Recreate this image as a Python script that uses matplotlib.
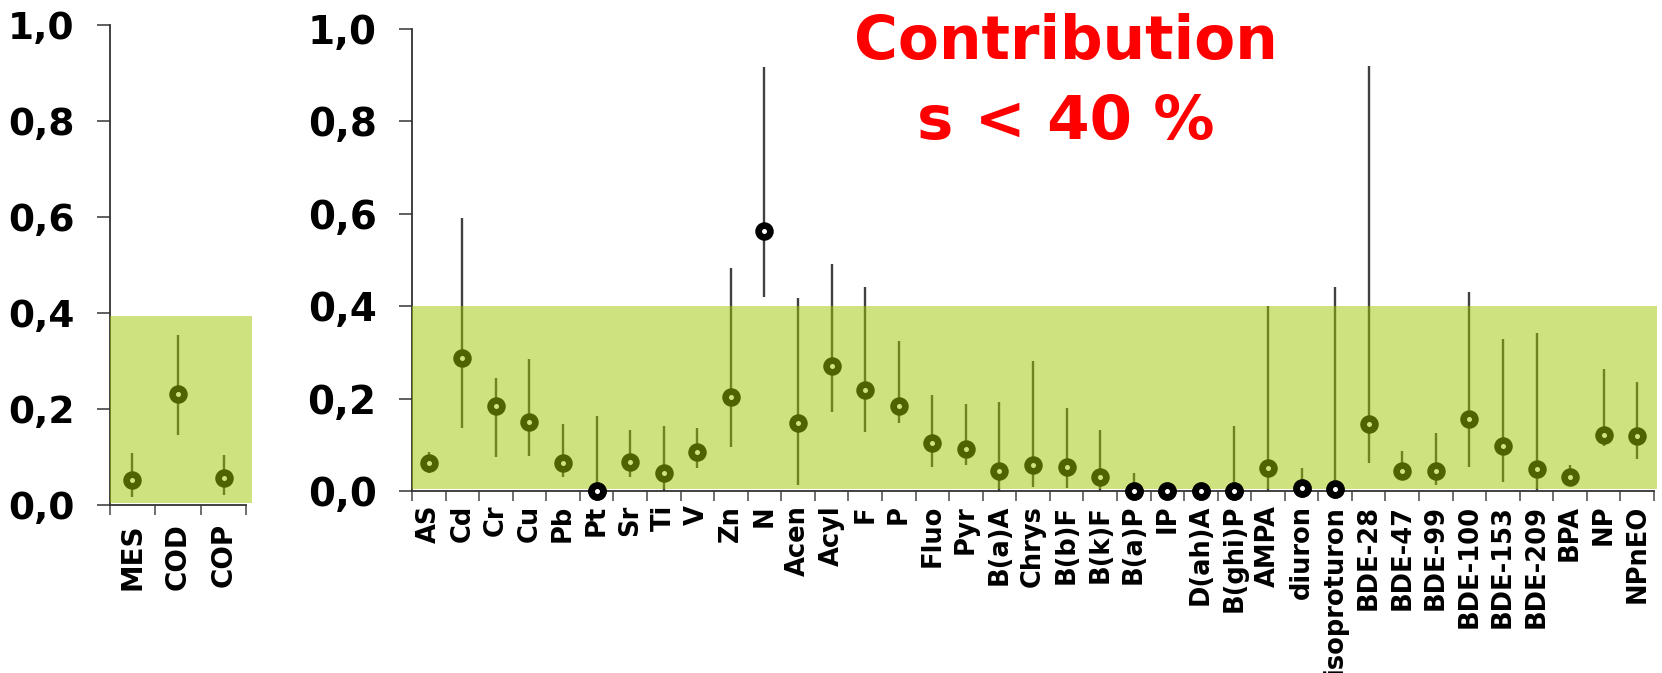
import numpy as np
import matplotlib
matplotlib.use('Agg')
import matplotlib.pyplot as plt
from matplotlib.patches import Rectangle

plt.rcParams['font.family'] = ['DejaVu Sans']
plt.rcParams['font.weight'] = 'bold'

# left panel: global parameters
left_cats = ['MES', 'COD', 'COP']
left_mean = [0.052, 0.232, 0.056]
left_low = [0.017, 0.147, 0.021]
left_high = [0.109, 0.354, 0.104]
left_limit = 0.394

# right panel: micropollutants
right_cats = ['AS', 'Cd', 'Cr', 'Cu', 'Pb', 'Pt', 'Sr', 'Ti', 'V', 'Zn', 'N',
              'Acen', 'Acyl', 'F', 'P', 'Fluo', 'Pyr', 'B(a)A', 'Chrys', 'B(b)F',
              'B(k)F', 'B(a)P', 'IP', 'D(ah)A', 'B(ghi)P', 'AMPA', 'diuron',
              'isoproturon', 'BDE-28', 'BDE-47', 'BDE-99', 'BDE-100', 'BDE-153',
              'BDE-209', 'BPA', 'NP', 'NPnEO']
right_mean = [0.060, 0.287, 0.183, 0.149, 0.061, 0.0, 0.062, 0.040, 0.084, 0.204,
              0.562, 0.148, 0.270, 0.219, 0.184, 0.105, 0.092, 0.044, 0.056, 0.053,
              0.031, 0.0, 0.0, 0.0, 0.0, 0.049, 0.007, 0.005, 0.145, 0.044,
              0.044, 0.156, 0.097, 0.048, 0.030, 0.121, 0.119]
right_low = [0.040, 0.136, 0.074, 0.076, 0.031, 0.0, 0.030, 0.0, 0.049, 0.096,
             0.419, 0.013, 0.170, 0.127, 0.148, 0.053, 0.056, 0.0, 0.008, 0.006,
             0.0, 0.0, 0.0, 0.0, 0.0, 0.0, 0.0, 0.0, 0.060, 0.030,
             0.013, 0.051, 0.020, 0.002, 0.030, 0.097, 0.069]
right_high = [0.085, 0.592, 0.245, 0.285, 0.145, 0.163, 0.132, 0.141, 0.136, 0.482,
              0.918, 0.417, 0.491, 0.442, 0.325, 0.208, 0.188, 0.193, 0.281, 0.180,
              0.132, 0.038, 0.0, 0.0, 0.141, 0.400, 0.049, 0.441, 0.920, 0.087,
              0.125, 0.431, 0.328, 0.341, 0.056, 0.265, 0.237]
right_limit = 0.40

yticks = [0.0, 0.2, 0.4, 0.6, 0.8, 1.0]
ytick_labels = ['0,0', '0,2', '0,4', '0,6', '0,8', '1,0']

overlay = '#9EC800'


def panel(ax, cats, mean, low, high, limit, ysize, xsize, xpad, extra):
    x = np.arange(len(cats))
    mean = np.array(mean)
    ax.vlines(x, low, high, color='#404040', lw=1.7, zorder=2)
    ax.plot(x, mean, 'o', ms=8.5, mfc='white', mec='black', mew=4.8,
            zorder=3, clip_on=False)
    # green band (semi transparent, tints what is below)
    ax.add_patch(Rectangle((-0.5, 0.004), len(cats) + extra, limit - 0.004,
                           facecolor=overlay, alpha=0.5, lw=0, zorder=4,
                           clip_on=False))
    # values at zero stay black on top
    z = mean < 0.01
    ax.plot(x[z], mean[z], 'o', ms=8.5, mfc='white', mec='black', mew=4.8,
            zorder=5, clip_on=False)
    ax.set_xlim(-0.5, len(cats) - 0.5)
    ax.set_ylim(0, 1)
    ax.set_yticks(yticks)
    ax.set_yticklabels(ytick_labels, fontsize=ysize, fontweight='bold')
    ax.set_xticks(np.arange(len(cats) + 1) - 0.5)
    ax.set_xticklabels([])
    ax.set_xticks(x, minor=True)
    ax.set_xticklabels(cats, minor=True, rotation=90, fontsize=xsize,
                       fontweight='bold', va='top', ha='center')
    ax.tick_params(axis='x', which='minor', length=0, pad=xpad)
    ax.tick_params(axis='x', which='major', length=7, width=1.2, color='#555555')
    ax.tick_params(axis='y', length=9.5, width=1.2, color='#444444', pad=16)
    for s in ['top', 'right']:
        ax.spines[s].set_visible(False)
    for s in ['left', 'bottom']:
        ax.spines[s].set_color('#333333')
        ax.spines[s].set_linewidth(1.3)


fig = plt.figure(figsize=(16.62, 6.73), dpi=100)
ax1 = fig.add_axes([0.066, 0.2496, 0.0822, 0.7128])
ax2 = fig.add_axes([0.2479, 0.2704, 0.7473, 0.6865])

panel(ax1, left_cats, left_mean, left_low, left_high, left_limit, 27, 20, 13, 0.12)
panel(ax2, right_cats, right_mean, right_low, right_high, right_limit, 28, 18.5, 10, 0.09)

fig.text(1066 / 1662, 1 - 42 / 673, 'Contribution', color='#FF0000',
         fontsize=43, fontweight='bold', ha='center', va='center')
fig.text(1066 / 1662, 1 - 122 / 673, 's < 40 %', color='#FF0000',
         fontsize=44, fontweight='bold', ha='center', va='center')

fig.savefig('out.png', dpi=100)
